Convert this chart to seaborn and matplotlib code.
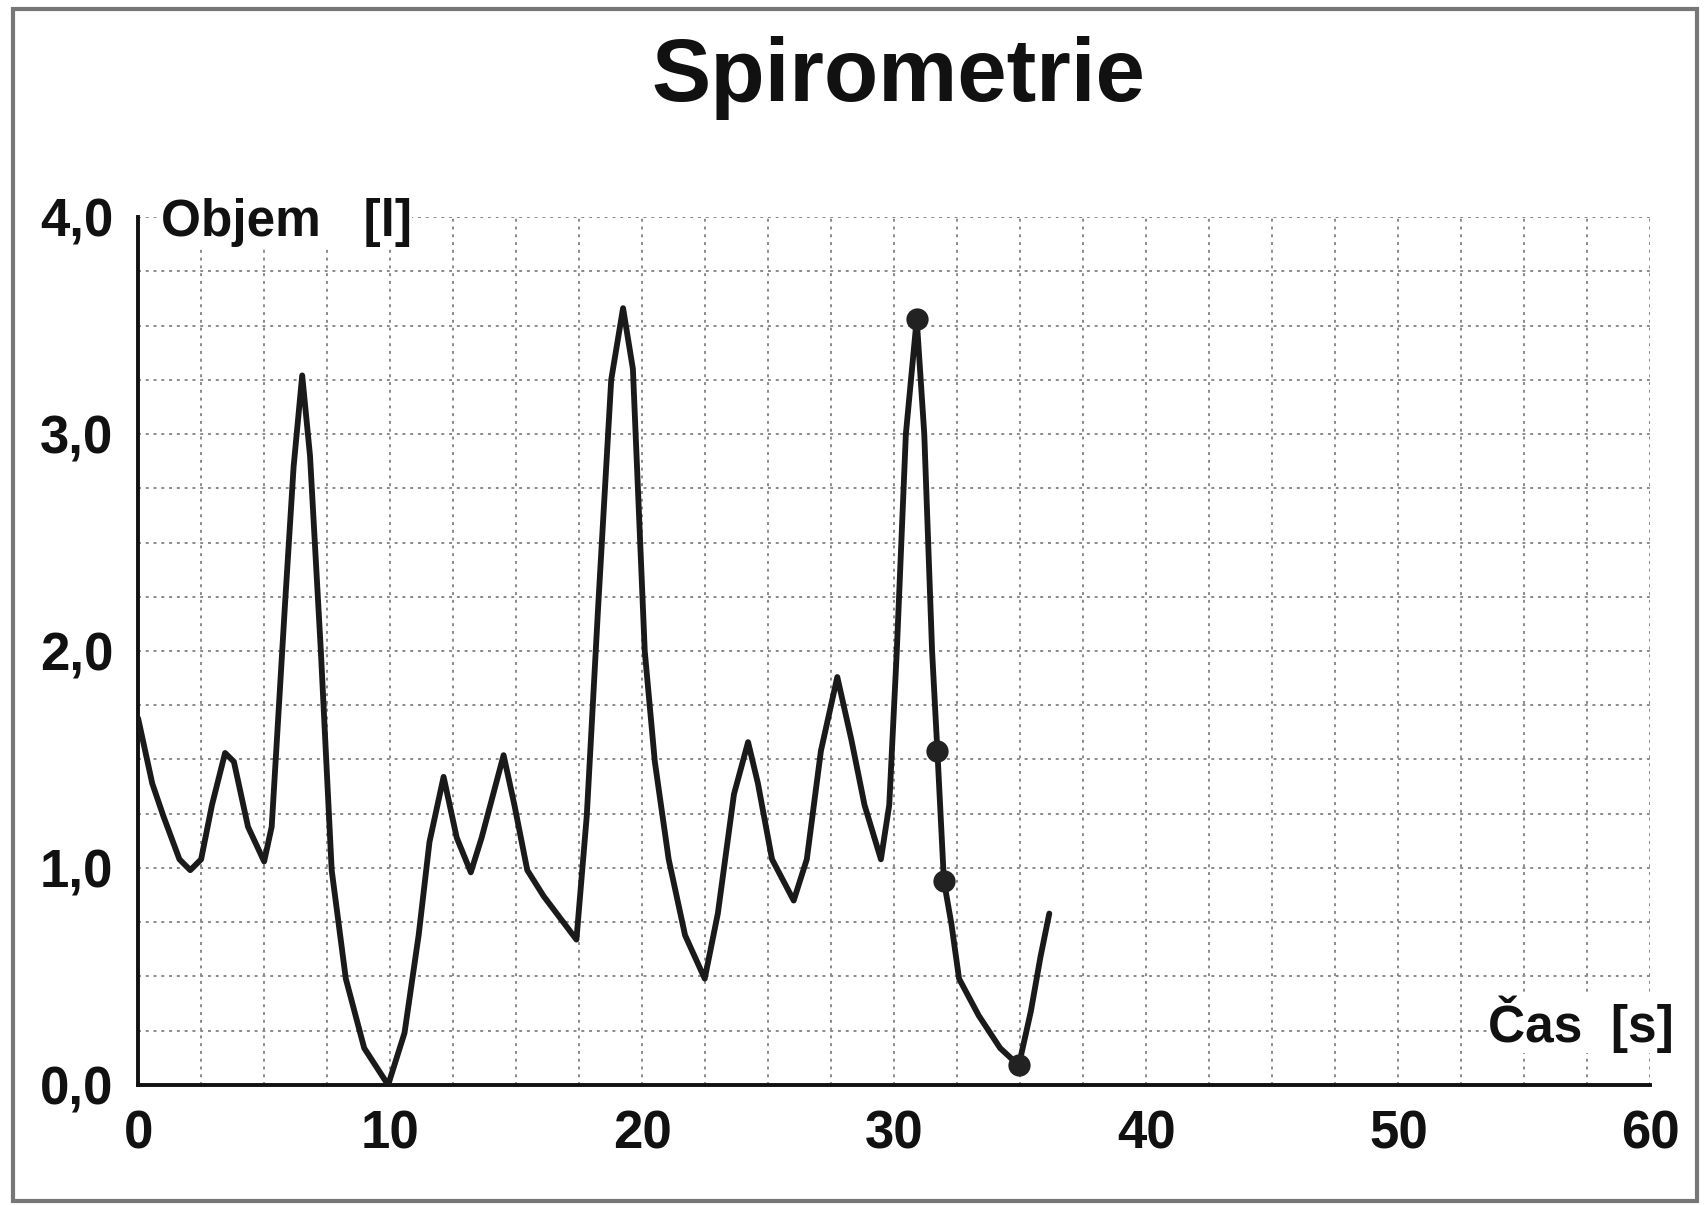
import numpy as np
import pandas as pd
import seaborn as sns
import matplotlib.pyplot as plt
from matplotlib.patches import Rectangle

# volume curve
cas = [0.0, 0.56, 1.0, 1.64, 2.07, 2.5, 2.93, 3.45, 3.8, 4.36, 5.0, 5.3, 5.82, 6.17,
       6.51, 6.82, 7.25, 7.68, 8.24, 8.97, 9.92, 10.57, 11.13, 11.56, 12.12, 12.64,
       13.2, 13.63, 14.5, 14.93, 15.44, 16.09, 16.74, 17.39, 17.8, 18.25, 18.77, 19.24,
       19.63, 20.1, 20.5, 21.05, 21.7, 22.48, 23.0, 23.64, 24.2, 24.59, 25.15, 26.01,
       26.53, 27.09, 27.74, 28.3, 28.82, 29.47, 29.8, 30.1, 30.46, 30.89, 31.19, 31.5,
       31.71, 31.97, 32.27, 32.57, 33.35, 34.2, 34.94, 35.42, 35.8, 36.15]
objem = [1.69, 1.39, 1.24, 1.04, 0.99, 1.04, 1.29, 1.53, 1.49, 1.19, 1.03, 1.19, 2.2, 2.85,
         3.27, 2.9, 2.0, 0.99, 0.49, 0.17, 0.0, 0.24, 0.69, 1.12, 1.42, 1.14,
         0.98, 1.14, 1.52, 1.29, 0.99, 0.87, 0.77, 0.67, 1.24, 2.2, 3.25, 3.58,
         3.3, 2.0, 1.49, 1.04, 0.69, 0.49, 0.79, 1.34, 1.58, 1.39, 1.04, 0.85,
         1.04, 1.54, 1.88, 1.59, 1.29, 1.04, 1.29, 2.0, 3.0, 3.53, 3.0, 2.0,
         1.54, 0.94, 0.74, 0.49, 0.32, 0.17, 0.09, 0.34, 0.59, 0.79]

# marked points on the last manoeuvre
bod_cas = [30.89, 31.71, 31.97, 34.94]
bod_objem = [3.53, 1.54, 0.94, 0.09]

x_ticks = [0, 10, 20, 30, 40, 50, 60]
y_ticks = [0, 1, 2, 3, 4]
y_labels = ['0,0', '1,0', '2,0', '3,0', '4,0']

FONT = ['Liberation Sans', 'DejaVu Sans']


def style_axes(ax):
    ax.set_xlim(0, 60)
    ax.set_ylim(0, 4)
    ax.set_xticks(x_ticks)
    ax.set_xticklabels([str(t) for t in x_ticks])
    ax.set_yticks(y_ticks)
    ax.set_yticklabels(y_labels)
    ax.set_xticks(np.arange(0, 60.1, 2.5), minor=True)
    ax.set_yticks(np.arange(0, 4.01, 0.25), minor=True)
    ax.tick_params(which='major', length=8, width=2, labelsize=38, pad=10,
                   colors='#111111')
    ax.tick_params(which='minor', length=0)
    for lab in ax.get_xticklabels() + ax.get_yticklabels():
        lab.set_fontweight('bold')
    ax.grid(which='both', color='#8a8a8a', linestyle=(0, (1.5, 2.5)), linewidth=1.4)
    for side in ['top', 'right']:
        ax.spines[side].set_visible(False)
    for side in ['left', 'bottom']:
        ax.spines[side].set_color('#111111')
        ax.spines[side].set_linewidth(2.8)
    ax.set_xlabel('')
    ax.set_ylabel('')


sns.set_theme(style='white')
plt.rcParams['font.family'] = FONT

fig = plt.figure(figsize=(17.05, 12.05), dpi=100)
ax = fig.add_axes([0.081, 0.0996, 0.887, 0.7203])

data = pd.DataFrame({'cas': cas, 'objem': objem})
body = pd.DataFrame({'cas': bod_cas, 'objem': bod_objem})

sns.lineplot(data=data, x='cas', y='objem', ax=ax, color='#1a1a1a', linewidth=4.2,
             sort=False, zorder=3, solid_joinstyle='round', solid_capstyle='round')
sns.scatterplot(data=body, x='cas', y='objem', ax=ax, color='#222222', s=220,
                edgecolor='#222222', zorder=4)
style_axes(ax)

fig.text(0.527, 0.935, 'Spirometrie', ha='center', va='center', fontsize=64,
         fontweight='bold', color='#111111')
fig.text(0.0944, 0.815, 'Objem   [l]', ha='left', va='center', fontsize=37,
         fontweight='bold', color='#111111',
         bbox=dict(facecolor='white', edgecolor='none', pad=0))
fig.text(0.9818, 0.150, 'Čas  [s]', ha='right', va='center', fontsize=37,
         fontweight='bold', color='#111111',
         bbox=dict(facecolor='white', edgecolor='none', pad=0))

fig.patches.append(Rectangle((0.0076, 0.0033), 0.988, 0.9892, transform=fig.transFigure,
                             fill=False, edgecolor='#777777', linewidth=3))

fig.savefig('out.png', dpi=100)
